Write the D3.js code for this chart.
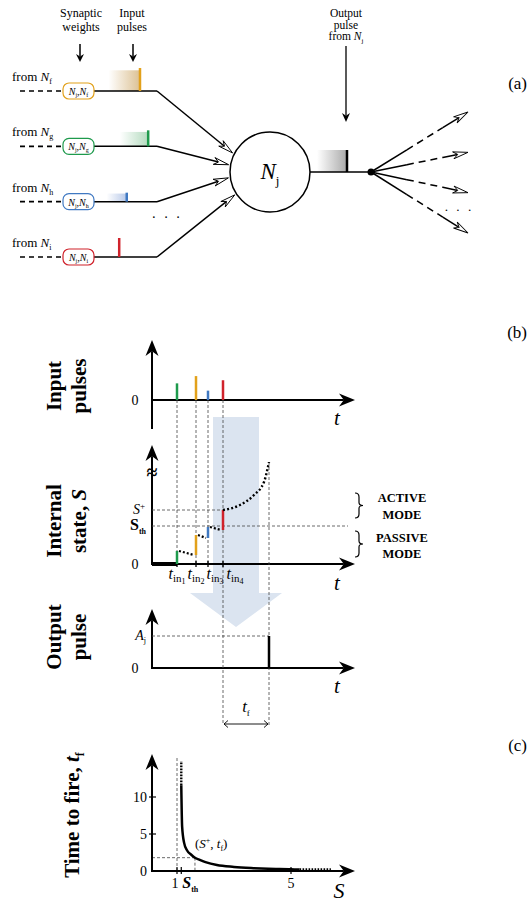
<!DOCTYPE html>
<html lang="en">
<head>
<meta charset="UTF-8">
<script src="https://d3js.org/d3.v7.min.js"></script>
<title>Neuron firing schematic</title>
<style>body{margin:0;background:#fff}</style>
</head>
<body>
<script>
// ---------- data ----------
// panel (a): incoming synapses
const inputs = ["f", "g", "h", "i"];
const inputColors = ["#e2a11b", "#1e9a4c", "#4079c2", "#d0222b"];
const inputFade = ["#dcc194", "#b4dbbf", "#b7c8e8", "#ffffff"];
const inputAmps = [0.92, 0.64, 0.36, 0.76];   // relative pulse amplitude
const inputDelays = [0.73, 0.86, 0.52, 0.40]; // pulse position along the input line
const inputTrails = [0.5, 0.45, 0.32, 0];     // faded tail behind each pulse
const outputs = ["o1", "o2", "o3", "o4"];

// panel (b): timing
const pulseOrder = ["g", "f", "h", "i"];
const pulseTimes = [12.5, 22, 28, 35.5];
const stateBefore = [0, 0.9, 2.6, 3.4];
const stateAfter = [1.3, 2.9, 3.7, 5.4];
const tinLabels = ["1", "2", "3", "4"];
const sTh = 3.8, sPlus = 5.4;
const activeT = [35.5, 44, 51, 56, 58.5];
const activeS = [5.4, 5.9, 6.9, 8.2, 10.2];
const fireTime = 58.5, outAmp = 1;

// panel (c): time to fire vs S
const tfS = [1.15, 1.18, 1.25, 1.35, 1.5, 1.63, 1.8, 2.0, 2.4, 3.0, 3.6, 4.2, 5.0, 5.3];
const tfVal = [11.6, 6.0, 3.8, 2.8, 2.2, 1.8, 1.5, 1.2, 0.8, 0.55, 0.4, 0.3, 0.25, 0.2];
const tfTicksY = [0, 5, 10];
const sTicksX = [1, 5];
const sThC = 1.15, sPlusC = 1.63, tfPlus = 1.8;

const SERIF = "'Liberation Serif','Times New Roman',serif";
const W = 528, H = 909;

const svg = d3.select("body").append("svg")
    .attr("width", W).attr("height", H)
    .style("font-family", SERIF);

// text with sub/superscripts
function rich(g, x, y, parts, size, anchor) {
    const t = g.append("text").attr("x", x).attr("y", y)
        .attr("font-size", size).attr("text-anchor", anchor || "start");
    let cur = 0;
    parts.forEach(p => {
        const off = p.dy || 0;
        t.append("tspan").attr("dy", off - cur)
            .attr("font-size", p.size || size)
            .attr("font-style", p.it ? "italic" : null)
            .attr("font-weight", p.b ? "bold" : null)
            .text(p.t);
        cur = off;
    });
    return t;
}

function head(g, x, y, ang, len, wid, fill, stroke) {
    g.append("path")
        .attr("d", `M0,0L${-len},${-wid / 2}L${-len * 0.7},0L${-len},${wid / 2}Z`)
        .attr("transform", `translate(${x},${y}) rotate(${ang})`)
        .attr("fill", fill)
        .attr("stroke", stroke || "none")
        .attr("stroke-width", 0.9);
}

function arrowLine(g, x1, y1, x2, y2, len, wid, w, fill, stroke) {
    const ang = Math.atan2(y2 - y1, x2 - x1);
    const back = len * 0.7;
    g.append("line")
        .attr("x1", x1).attr("y1", y1)
        .attr("x2", x2 - Math.cos(ang) * back).attr("y2", y2 - Math.sin(ang) * back)
        .attr("stroke", "#000").attr("stroke-width", w);
    head(g, x2, y2, ang * 180 / Math.PI, len, wid, fill, stroke);
}

function dashed(g, x1, y1, x2, y2) {
    g.append("line")
        .attr("x1", x1).attr("y1", y1).attr("x2", x2).attr("y2", y2)
        .attr("stroke", "#444").attr("stroke-width", 0.8)
        .attr("stroke-dasharray", "3,2");
}

const defs = svg.append("defs");
function fadeGrad(id, col) {
    const lg = defs.append("linearGradient").attr("id", id)
        .attr("x1", 0).attr("x2", 1).attr("y1", 0).attr("y2", 0);
    lg.append("stop").attr("offset", 0).attr("stop-color", col).attr("stop-opacity", 0);
    lg.append("stop").attr("offset", 1).attr("stop-color", col).attr("stop-opacity", 1);
}
inputs.forEach((k, i) => fadeGrad("fade-" + k, inputFade[i]));
fadeGrad("fade-out", "#a9a9a9");

// ================= panel (a) =================
const ga = svg.append("g");
const rowY = d3.scalePoint().domain(inputs).range([91, 257]);
const lineX = d3.scaleLinear().domain([0, 1]).range([94, 157]);
const ampA = d3.scaleLinear().domain([0, 1]).range([0, 25]);
const cx = 270, cy = 172, cr = 40;
const inAngles = [207, 190, 172, 147];

ga.append("text").attr("x", 81).attr("y", 17).attr("font-size", 12)
    .attr("text-anchor", "middle").text("Synaptic");
ga.append("text").attr("x", 81).attr("y", 31).attr("font-size", 12)
    .attr("text-anchor", "middle").text("weights");
ga.append("text").attr("x", 132).attr("y", 17).attr("font-size", 12)
    .attr("text-anchor", "middle").text("Input");
ga.append("text").attr("x", 132).attr("y", 31).attr("font-size", 12)
    .attr("text-anchor", "middle").text("pulses");
arrowLine(ga, 80, 44, 80, 62, 8, 8, 1.5, "#000");
arrowLine(ga, 133, 44, 133, 62, 8, 8, 1.5, "#000");

inputs.forEach((k, i) => {
    const y = rowY(k);
    rich(ga, 12, y - 10, [{ t: "from " }, { t: "N", it: true }, { t: k, size: 8, dy: 3 }], 13);
    ga.append("line").attr("x1", 20).attr("y1", y).attr("x2", 63).attr("y2", y)
        .attr("stroke", "#000").attr("stroke-width", 1.6).attr("stroke-dasharray", "5,4");
    // pulse with its fading tail
    const bx = lineX(inputDelays[i]);
    const h = ampA(inputAmps[i]);
    if (inputTrails[i] > 0) {
        const tw = inputTrails[i] * (lineX(1) - lineX(0));
        ga.append("rect").attr("x", bx - tw).attr("y", y - h * 0.9)
            .attr("width", tw).attr("height", h * 0.9)
            .attr("fill", `url(#fade-${k})`);
    }
    ga.append("line").attr("x1", 94).attr("y1", y).attr("x2", 157).attr("y2", y)
        .attr("stroke", "#000").attr("stroke-width", 1.5);
    ga.append("line").attr("x1", bx).attr("y1", y).attr("x2", bx).attr("y2", y - h)
        .attr("stroke", inputColors[i]).attr("stroke-width", 2.5);
    // weight box
    ga.append("rect").attr("x", 63).attr("y", y - 8).attr("width", 31).attr("height", 16)
        .attr("rx", 6).attr("fill", "#fff")
        .attr("stroke", inputColors[i]).attr("stroke-width", 1.2);
    rich(ga, 78.5, y + 4, [
        { t: "N", it: true }, { t: "j", size: 6, dy: 2 }, { t: "," },
        { t: "N", it: true }, { t: k, size: 6, dy: 2 }], 10, "middle");
    // into neuron
    const a = inAngles[i] * Math.PI / 180;
    arrowLine(ga, 157, y, cx + (cr + 2) * Math.cos(a), cy + (cr + 2) * Math.sin(a),
        15, 7, 1.5, "#fff", "#000");
});
ga.append("text").attr("x", 167).attr("y", 222).attr("font-size", 14)
    .attr("text-anchor", "middle").attr("letter-spacing", 2).text("· · ·");

ga.append("circle").attr("cx", cx).attr("cy", cy).attr("r", cr)
    .attr("fill", "#fff").attr("stroke", "#000").attr("stroke-width", 1.5);
rich(ga, cx, cy + 7, [{ t: "N", it: true }, { t: "j", size: 13, dy: 6 }], 23, "middle");

// output
ga.append("rect").attr("x", 317).attr("y", 150).attr("width", 30).attr("height", 22)
    .attr("fill", "url(#fade-out)");
ga.append("line").attr("x1", cx + cr).attr("y1", cy).attr("x2", 371).attr("y2", cy)
    .attr("stroke", "#000").attr("stroke-width", 1.5);
ga.append("line").attr("x1", 347).attr("y1", cy).attr("x2", 347).attr("y2", 150)
    .attr("stroke", "#000").attr("stroke-width", 2.5);
ga.append("circle").attr("cx", 371).attr("cy", cy).attr("r", 3.5).attr("fill", "#000");
["Output", "pulse"].forEach((s, i) => ga.append("text").attr("x", 346).attr("y", 17 + i * 11.5)
    .attr("font-size", 11.5).attr("text-anchor", "middle").text(s));
rich(ga, 346, 40, [{ t: "from " }, { t: "N", it: true }, { t: "j", size: 7, dy: 3 }], 11.5, "middle");
arrowLine(ga, 346, 46, 346, 122, 9, 8, 1.3, "#000");

const outY = d3.scalePoint().domain(outputs).range([112, 233]);
outputs.forEach(o => {
    const x2 = 468, y2 = outY(o);
    const p = f => [371 + (x2 - 371) * f, cy + (y2 - cy) * f];
    const a = p(0.37), b = p(0.74);
    ga.append("line").attr("x1", 371).attr("y1", cy).attr("x2", a[0]).attr("y2", a[1])
        .attr("stroke", "#000").attr("stroke-width", 1.5);
    ga.append("line").attr("x1", a[0]).attr("y1", a[1]).attr("x2", b[0]).attr("y2", b[1])
        .attr("stroke", "#000").attr("stroke-width", 1.5).attr("stroke-dasharray", "7,5");
    arrowLine(ga, b[0], b[1], x2, y2, 15, 7, 1.5, "#fff", "#000");
});
ga.append("text").attr("x", 459).attr("y", 214).attr("font-size", 13)
    .attr("text-anchor", "middle").attr("letter-spacing", 2).text("· · ·");

// ================= panel (b) =================
const gb = svg.append("g");
const tX = d3.scaleLinear().domain([0, 100]).range([152, 352]);
const inY = d3.scaleLinear().domain([0, 1]).range([400, 374]);
const sY = d3.scaleLinear().domain([0, 10]).range([564, 464]);
const oY = d3.scaleLinear().domain([0, 1]).range([668, 636]);
const colorOf = k => inputColors[inputs.indexOf(k)];
const ampOf = k => inputAmps[inputs.indexOf(k)];

// big pale arrow
gb.append("path")
    .attr("d", "M213,417L259,417L259,593L282,593L236,627L190,593L213,593Z")
    .attr("fill", "#dbe4f0");

// axes
function axes(g, yBottom, yTop, y0) {
    arrowLine(g, 152, yBottom, 152, yTop, 16, 13, 2, "#000");
    arrowLine(g, 151, y0, 355, y0, 16, 13, 2, "#000");
}
axes(gb, 429, 340, inY(0));
axes(gb, sY(0), 445, sY(0));
axes(gb, oY(0), 609, oY(0));
gb.append("text").attr("x", 152).attr("y", 479).attr("font-size", 20)
    .attr("font-weight", "bold").attr("text-anchor", "middle").text("≈");

[inY(0), sY(0), oY(0)].forEach(y => gb.append("text").attr("x", 135).attr("y", y + 5)
    .attr("font-size", 14).attr("text-anchor", "middle").text("0"));
[425, 590, 693].forEach(y => gb.append("text").attr("x", 337).attr("y", y)
    .attr("font-size", 21).attr("font-style", "italic").attr("text-anchor", "middle").text("t"));

// guides
pulseOrder.forEach((k, i) => {
    const x = tX(pulseTimes[i]);
    dashed(gb, x, inY(0), x, k === "i" ? 725 : sY(0));
});
dashed(gb, tX(fireTime), sY(activeS[activeS.length - 1]), tX(fireTime), 725);
dashed(gb, 152, sY(sPlus), tX(pulseTimes[3]), sY(sPlus));
dashed(gb, 152, sY(sTh), 348, sY(sTh));
dashed(gb, 152, oY(outAmp), tX(fireTime), oY(outAmp));

// input pulses
pulseOrder.forEach((k, i) => {
    const x = tX(pulseTimes[i]);
    gb.append("line").attr("x1", x).attr("x2", x).attr("y1", inY(0)).attr("y2", inY(ampOf(k)))
        .attr("stroke", colorOf(k)).attr("stroke-width", 2.5);
});

// internal state
gb.append("line").attr("x1", 152).attr("x2", tX(pulseTimes[0])).attr("y1", sY(0)).attr("y2", sY(0))
    .attr("stroke", "#000").attr("stroke-width", 4);
pulseOrder.forEach((k, i) => {
    const x = tX(pulseTimes[i]);
    gb.append("line").attr("x1", x).attr("x2", x).attr("y1", sY(0) + 3).attr("y2", sY(0) - 3)
        .attr("stroke", "#000").attr("stroke-width", 1.3);
    if (i < pulseOrder.length - 1) {
        gb.append("line")
            .attr("x1", x + 2).attr("y1", sY(stateAfter[i]))
            .attr("x2", tX(pulseTimes[i + 1]) - 2).attr("y2", sY(stateBefore[i + 1]))
            .attr("stroke", "#000").attr("stroke-width", 2.2).attr("stroke-dasharray", "2,2");
    }
    gb.append("line").attr("x1", x).attr("x2", x)
        .attr("y1", sY(stateBefore[i])).attr("y2", sY(stateAfter[i]))
        .attr("stroke", colorOf(k)).attr("stroke-width", 2.5);
});
const tinX = [177, 196, 215, 235];
tinLabels.forEach((n, i) => rich(gb, tinX[i], 579, [
    { t: "t", it: true }, { t: "in", size: 11, dy: 3 }, { t: n, size: 8, dy: 5 }], 16, "middle"));

gb.append("path")
    .datum(activeT.map((t, i) => [tX(t), sY(activeS[i])]))
    .attr("d", d3.line().curve(d3.curveMonotoneX))
    .attr("fill", "none").attr("stroke", "#000").attr("stroke-width", 2.4)
    .attr("stroke-dasharray", "2,2.2");

rich(gb, 145, 514, [{ t: "S", it: true }, { t: "+", size: 9, dy: -5 }], 14, "end");
rich(gb, 146, 530, [{ t: "S", b: true }, { t: "th", size: 8, b: true, dy: 4 }], 16, "end");
rich(gb, 146, 640, [{ t: "A", it: true }, { t: "j", size: 8, dy: 3 }], 14, "end");

// output pulse
gb.append("line").attr("x1", tX(fireTime)).attr("x2", tX(fireTime))
    .attr("y1", oY(0)).attr("y2", oY(outAmp)).attr("stroke", "#000").attr("stroke-width", 2.5);

// t_f measure
const fx1 = tX(pulseTimes[3]), fx2 = tX(fireTime);
gb.append("line").attr("x1", fx1 + 1).attr("x2", fx2 - 1).attr("y1", 724).attr("y2", 724)
    .attr("stroke", "#000").attr("stroke-width", 0.9);
[[fx1, 1], [fx2, -1]].forEach(([x, d]) => gb.append("path")
    .attr("d", `M${x + 5 * d},720.5L${x + d},724L${x + 5 * d},727.5`)
    .attr("fill", "none").attr("stroke", "#000").attr("stroke-width", 0.9));
rich(gb, (fx1 + fx2) / 2, 712, [{ t: "t", it: true }, { t: "f", size: 9, dy: 4 }], 17, "middle");

// braces and modes
function brace(g, x, y0, y1) {
    const ym = (y0 + y1) / 2;
    g.append("path")
        .attr("d", `M${x},${y0}Q${x + 4},${y0} ${x + 4},${y0 + 4}L${x + 4},${ym - 3}` +
            `Q${x + 4},${ym} ${x + 8},${ym}Q${x + 4},${ym} ${x + 4},${ym + 3}` +
            `L${x + 4},${y1 - 4}Q${x + 4},${y1} ${x},${y1}`)
        .attr("fill", "none").attr("stroke", "#000").attr("stroke-width", 1.2);
}
brace(gb, 355, 493, 518);
brace(gb, 355, 531, 557);
[["ACTIVE", 502], ["MODE", 519], ["PASSIVE", 542], ["MODE", 558]].forEach(([s, y]) =>
    gb.append("text").attr("x", 402).attr("y", y).attr("font-size", 12.5)
        .attr("font-weight", "bold").attr("text-anchor", "middle").text(s));

// rotated titles
function vtitle(g, cyy, lines) {
    lines.forEach(([x, parts]) => {
        const t = rich(g, 0, 0, parts, 21, "middle");
        t.attr("font-weight", "bold").attr("transform", `translate(${x},${cyy}) rotate(-90)`);
    });
}
vtitle(svg, 386, [[61, [{ t: "Input" }]], [86, [{ t: "pulses" }]]]);
vtitle(svg, 521, [[61, [{ t: "Internal" }]], [86, [{ t: "state, " }, { t: "S", it: true }]]]);
vtitle(svg, 637, [[61, [{ t: "Output" }]], [86, [{ t: "pulse" }]]]);
vtitle(svg, 815, [[79, [{ t: "Time to fire, " }, { t: "t", it: true }, { t: "f", size: 12, dy: 5 }]]]);

// ================= panel (c) =================
const gc = svg.append("g");
const cX = d3.scaleLinear().domain([0, 7]).range([148.5, 348]);
const cY = d3.scaleLinear().domain([0, 15]).range([871, 760]);

dashed(gc, cX(1), 758, cX(1), cY(0));
dashed(gc, 152, cY(tfPlus), cX(sPlusC), cY(tfPlus));
dashed(gc, cX(sPlusC), cY(tfPlus), cX(sPlusC), cY(0));

arrowLine(gc, 152, cY(0) + 1, 152, 754, 16, 13, 2, "#000");
arrowLine(gc, 151, cY(0), 355, cY(0), 16, 13, 2, "#000");

tfTicksY.forEach(v => {
    if (v > 0) gc.append("line").attr("x1", 149).attr("x2", 156).attr("y1", cY(v)).attr("y2", cY(v))
        .attr("stroke", "#000").attr("stroke-width", 1.2);
    gc.append("text").attr("x", 147).attr("y", cY(v) + 5).attr("font-size", 14)
        .attr("text-anchor", "end").text(v);
});
[...sTicksX, sThC].forEach(v => gc.append("line").attr("x1", cX(v)).attr("x2", cX(v))
    .attr("y1", cY(0) - 4).attr("y2", cY(0) + 3).attr("stroke", "#000").attr("stroke-width", 1.2));
sTicksX.forEach(v => gc.append("text").attr("x", cX(v) - (v === 1 ? 2 : 0)).attr("y", 888)
    .attr("font-size", 14).attr("text-anchor", "middle").text(v));
rich(gc, cX(sThC) + 1, 888, [{ t: "S", b: true, it: true }, { t: "th", size: 8, b: true, dy: 4 }], 16);
gc.append("text").attr("x", 339).attr("y", 898).attr("font-size", 22)
    .attr("font-style", "italic").attr("text-anchor", "middle").text("S");

gc.append("path")
    .datum(tfS.map((s, i) => [cX(s), cY(tfVal[i])]))
    .attr("d", d3.line().curve(d3.curveMonotoneX))
    .attr("fill", "none").attr("stroke", "#000").attr("stroke-width", 2.5);
gc.append("line").attr("x1", cX(tfS[0])).attr("x2", cX(tfS[0]))
    .attr("y1", cY(tfVal[0])).attr("y2", 761)
    .attr("stroke", "#000").attr("stroke-width", 2.4).attr("stroke-dasharray", "1.6,1.4");
gc.append("line").attr("x1", cX(tfS[tfS.length - 1])).attr("x2", cX(6.4))
    .attr("y1", cY(tfVal[tfVal.length - 1])).attr("y2", cY(tfVal[tfVal.length - 1]))
    .attr("stroke", "#000").attr("stroke-width", 2.4).attr("stroke-dasharray", "1.6,1.4");
rich(gc, cX(sPlusC), 848, [{ t: "(" }, { t: "S", it: true }, { t: "+", size: 8, dy: -5 },
    { t: ", " }, { t: "t", it: true }, { t: "f", size: 8, dy: 3 }, { t: ")" }], 13);

// panel letters
[["(a)", 89], ["(b)", 338], ["(c)", 751]].forEach(([s, y]) =>
    svg.append("text").attr("x", 527).attr("y", y).attr("font-size", 17)
        .attr("text-anchor", "end").text(s));
</script>
</body>
</html>
